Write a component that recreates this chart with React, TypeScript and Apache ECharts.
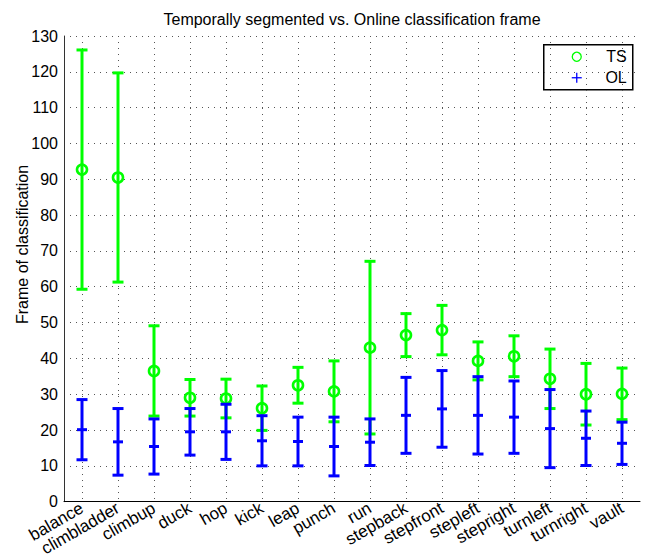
import { useEffect, useRef } from "react";
import * as echarts from "echarts";

// Actions and their mean classification frame (± spread) for both methods
const categories = [
  "balance", "climbladder", "climbup", "duck", "hop", "kick", "leap", "punch",
  "run", "stepback", "stepfront", "stepleft", "stepright", "turnleft", "turnright", "vault",
];
const tsMean = [92.7, 90.5, 36.5, 29.0, 28.8, 26.1, 32.5, 30.8, 43.0, 46.5, 47.9, 39.3, 40.6, 34.3, 30.0, 30.1];
const tsErr = [33.4, 29.2, 12.6, 5.1, 5.4, 6.2, 5.0, 8.5, 24.1, 6.0, 6.9, 5.3, 5.7, 8.3, 8.6, 7.2];
const olMean = [20.1, 16.7, 15.4, 19.5, 19.5, 17.0, 16.8, 15.4, 16.6, 24.1, 25.9, 24.1, 23.6, 20.4, 17.7, 16.3];
const olErr = [8.4, 9.3, 7.7, 6.5, 7.7, 7.0, 6.8, 8.2, 6.5, 10.6, 10.7, 10.8, 10.1, 10.9, 7.6, 5.9];
const seriesNames = ["TS", "OL"];
const yMin = 0;
const yMax = 130;
const yStep = 10;

const GREEN = "#00ff00";
const BLUE = "#0000ff";
const FONT = "Liberation Sans, Arial, Helvetica, sans-serif";

function errorBarRenderer(color: string, marker: "circle" | "plus") {
  return (_params: any, api: any) => {
    const i = api.value(0);
    const m = api.value(1);
    const e = api.value(2);
    const top = api.coord([i, m + e]);
    const bot = api.coord([i, m - e]);
    const mid = api.coord([i, m]);
    const cap = 5.5;
    const style = { stroke: color, lineWidth: 3, fill: "transparent" };
    const children: any[] = [
      { type: "line", shape: { x1: top[0], y1: top[1], x2: bot[0], y2: bot[1] }, style },
      { type: "line", shape: { x1: top[0] - cap, y1: top[1], x2: top[0] + cap, y2: top[1] }, style },
      { type: "line", shape: { x1: bot[0] - cap, y1: bot[1], x2: bot[0] + cap, y2: bot[1] }, style },
    ];
    if (marker === "circle") {
      children.push({
        type: "circle",
        shape: { cx: mid[0], cy: mid[1], r: 5 },
        style: { stroke: color, lineWidth: 2.6, fill: "transparent" },
      });
    } else {
      children.push({
        type: "line",
        shape: { x1: mid[0] - 5, y1: mid[1], x2: mid[0] + 5, y2: mid[1] },
        style,
      });
    }
    return { type: "group", children };
  };
}

export default function App() {
  const ref = useRef<HTMLDivElement>(null);

  useEffect(() => {
    if (!ref.current) return;
    const chart = echarts.init(ref.current, null, { renderer: "svg" });

    const dotted = { color: "#555", width: 1, type: [1, 5] as number[] };

    chart.setOption({
      animation: false,
      backgroundColor: "#fff",
      title: {
        text: "Temporally segmented vs. Online classification frame",
        left: 352,
        top: 11,
        textAlign: "center",
        padding: 0,
        textStyle: { fontFamily: FONT, fontSize: 16, fontWeight: "normal", color: "#000" },
      },
      grid: { left: 64, right: 5, top: 36, bottom: 49, containLabel: false },
      xAxis: {
        type: "category",
        data: categories,
        boundaryGap: true,
        axisLine: { show: true, lineStyle: { color: "#000", width: 1 } },
        axisTick: { show: false },
        axisLabel: {
          interval: 0,
          rotate: 30,
          margin: 5,
          fontFamily: FONT,
          fontSize: 17,
          color: "#000",
        },
        splitLine: { show: true, alignWithLabel: true, lineStyle: dotted },
      },
      yAxis: {
        type: "value",
        min: yMin,
        max: yMax,
        interval: yStep,
        axisLine: { show: true, lineStyle: { color: "#333", width: 1 } },
        axisTick: { show: false },
        axisLabel: { margin: 6, fontFamily: FONT, fontSize: 16, color: "#000" },
        splitLine: { show: true, lineStyle: dotted },
      },
      series: [
        {
          name: seriesNames[0],
          type: "custom",
          renderItem: errorBarRenderer(GREEN, "circle"),
          encode: { x: 0, y: 1 },
          data: categories.map((_, i) => [i, tsMean[i], tsErr[i]]),
          z: 2,
        },
        {
          name: seriesNames[1],
          type: "custom",
          renderItem: errorBarRenderer(BLUE, "plus"),
          encode: { x: 0, y: 1 },
          data: categories.map((_, i) => [i, olMean[i], olErr[i]]),
          z: 3,
        },
      ],
      graphic: [
        {
          // y-axis title, reading bottom to top
          type: "text",
          x: 22,
          y: 324,
          rotation: Math.PI / 2,
          style: {
            text: "Frame of classification",
            fontFamily: FONT,
            fontSize: 16,
            fill: "#000",
            align: "left",
            verticalAlign: "middle",
          },
        },
        {
          type: "group",
          left: 543,
          top: 44,
          z: 10,
          children: [
            {
              type: "rect",
              shape: { x: 0, y: 0, width: 89, height: 45 },
              style: { fill: "#fff", stroke: "#000", lineWidth: 1.5 },
            },
            {
              type: "circle",
              shape: { cx: 33, cy: 12, r: 4.5 },
              style: { fill: "transparent", stroke: GREEN, lineWidth: 1.3 },
            },
            {
              type: "line",
              shape: { x1: 28, y1: 33, x2: 38, y2: 33 },
              style: { stroke: BLUE, lineWidth: 1.3 },
            },
            {
              type: "line",
              shape: { x1: 33, y1: 28, x2: 33, y2: 38 },
              style: { stroke: BLUE, lineWidth: 1.3 },
            },
            {
              type: "text",
              x: 83,
              y: 12,
              style: {
                text: seriesNames[0],
                fontFamily: FONT,
                fontSize: 16,
                fill: "#000",
                align: "right",
                verticalAlign: "middle",
              },
            },
            {
              type: "text",
              x: 83,
              y: 33,
              style: {
                text: seriesNames[1],
                fontFamily: FONT,
                fontSize: 16,
                fill: "#000",
                align: "right",
                verticalAlign: "middle",
              },
            },
          ],
        },
      ],
    });

    return () => chart.dispose();
  }, []);

  return (
    <div
      ref={ref}
      style={{ position: "fixed", left: 0, top: 0, width: 645, height: 559, background: "#fff" }}
    />
  );
}
